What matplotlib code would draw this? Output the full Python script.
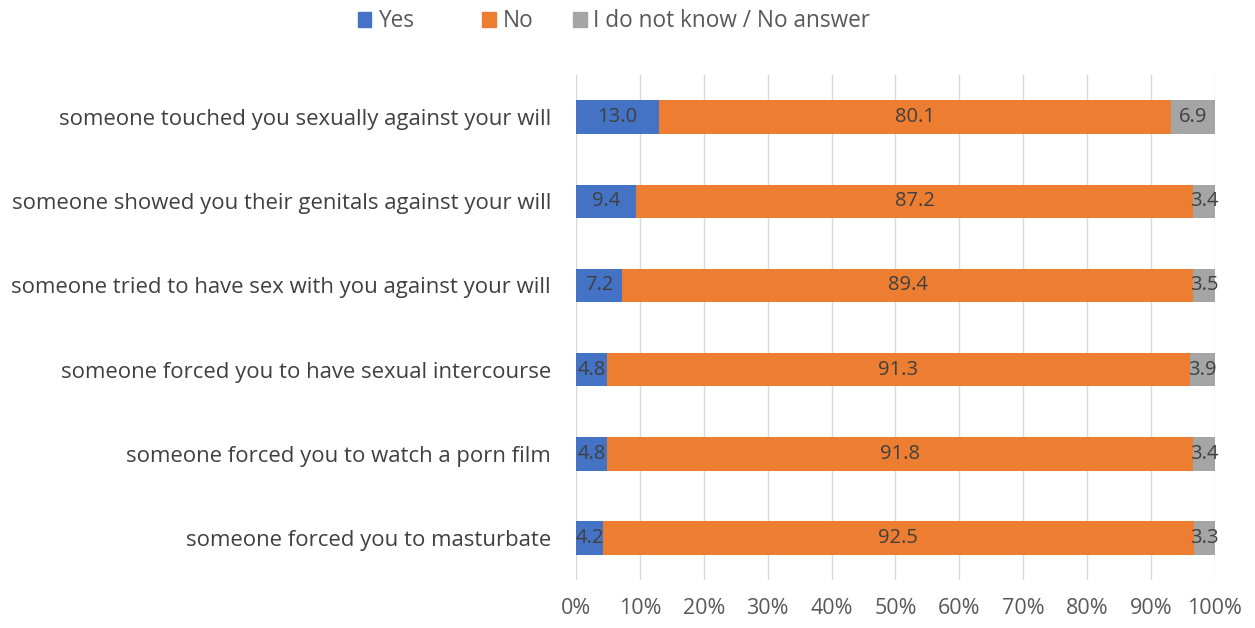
import matplotlib.pyplot as plt
import matplotlib.patches as mpatches
import numpy as np

plt.rcParams['font.family'] = ['Open Sans', 'DejaVu Sans']

categories = [
    "someone touched you sexually against your will",
    "someone showed you their genitals against your will",
    "someone tried to have sex with you against your will",
    "someone forced you to have sexual intercourse",
    "someone forced you to watch a porn film",
    "someone forced you to masturbate",
]
yes = [13.0, 9.4, 7.2, 4.8, 4.8, 4.2]
no = [80.1, 87.2, 89.4, 91.3, 91.8, 92.5]
dont_know = [6.9, 3.4, 3.5, 3.9, 3.4, 3.3]

series = [("Yes", yes, "#4472C4"),
          ("No", no, "#ED7D31"),
          ("I do not know / No answer", dont_know, "#A5A5A5")]

fig = plt.figure(figsize=(12.55, 6.28), dpi=100)
ax = fig.add_axes([0.459, 0.0764, 0.509, 0.804])

y = np.arange(len(categories))
left = np.zeros(len(categories))
for name, vals, color in series:
    vals = np.array(vals)
    bars = ax.barh(y, vals, left=left, height=0.4, color=color, label=name, zorder=3)
    for b, v in zip(bars, vals):
        ax.text(b.get_x() + b.get_width() / 2, b.get_y() + b.get_height() / 2,
                f"{v:.1f}", ha="center", va="center", fontsize=14.5,
                color="#404040", zorder=4)
    left += vals

ax.set_xlim(0, 100)
ax.set_ylim(len(categories) - 0.5, -0.5)
ax.set_yticks(y)
ax.set_yticklabels(categories, fontsize=15.9, color="#404040")
ax.set_xticks(np.arange(0, 101, 10))
ax.set_xticklabels([f"{t}%" for t in range(0, 101, 10)], fontsize=15.5, color="#595959")
ax.xaxis.grid(True, color="#D9D9D9", linewidth=1, zorder=0)
ax.tick_params(axis="y", length=0, pad=18)
ax.tick_params(axis="x", length=0, pad=13)
for s in ax.spines.values():
    s.set_visible(False)

# legend entries placed one by one along the top
legend_x = [0.285, 0.384, 0.4566]
for (name, _, color), lx in zip(series, legend_x):
    fig.legend(handles=[mpatches.Patch(color=color, label=name)],
               loc="center left", bbox_to_anchor=(lx, 0.966), frameon=False,
               fontsize=16.3, handlelength=0.6, handleheight=0.6,
               handletextpad=0.3, borderpad=0, borderaxespad=0,
               labelcolor="#595959")

fig.savefig("out.png", dpi=100)
